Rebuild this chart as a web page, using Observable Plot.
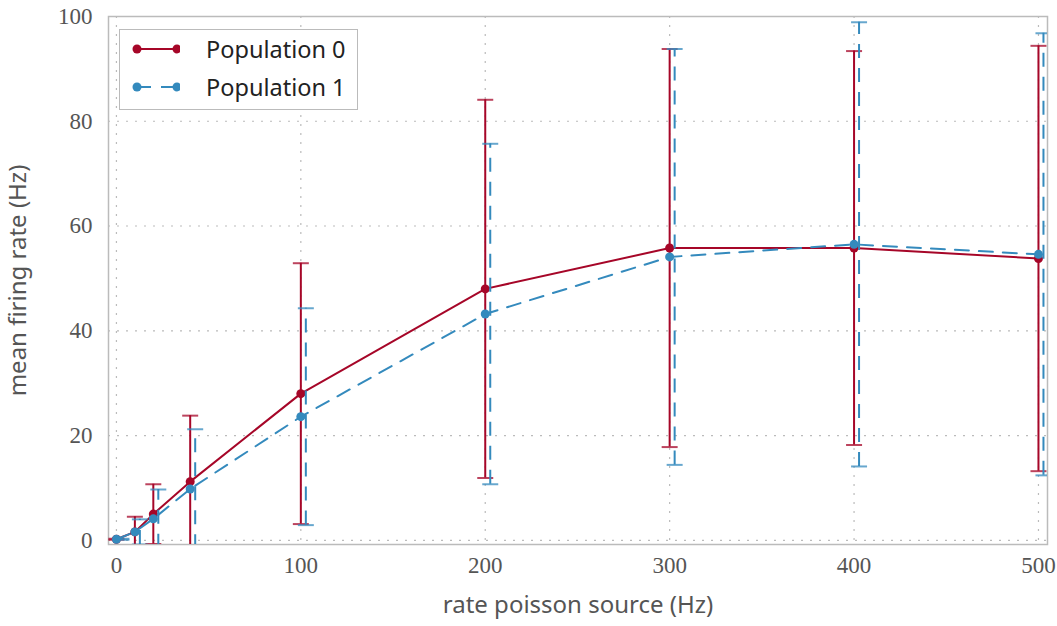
<!DOCTYPE html>
<html>
<head>
<meta charset="utf-8">
<script src="https://cdn.jsdelivr.net/npm/d3@7"></script>
<script src="https://cdn.jsdelivr.net/npm/@observablehq/plot@0.6"></script>
<style>
  body { margin: 0; background: #fff; }
  #wrap { position: relative; width: 1057px; height: 626px; }
  #legend { position: absolute; left: 119px; top: 29px; width: 239px; height: 81px;
    border: 1.5px solid #bbb; background: #fff; box-sizing: border-box;
    font-family: "Noto Sans", sans-serif; font-size: 23.5px; color: #222; }
  .row { position: absolute; left: 0; height: 30px; display: flex; align-items: center; }
  .row svg { margin-left: 10px; }
  .row span { margin-left: 26px; }
</style>
</head>
<body>
<div id="wrap"></div>
<script>
const rates = [0, 10, 20, 40, 100, 200, 300, 400, 500];
const pop0Mean = [0.2, 1.6, 5.0, 11.2, 28.0, 48.0, 55.8, 55.8, 53.8];
const pop0Std  = [0.1, 2.9, 5.7, 12.6, 24.9, 36.1, 38.0, 37.6, 40.6];
const pop1Mean = [0.2, 1.6, 4.1, 9.8, 23.6, 43.2, 54.1, 56.5, 54.6];
const pop1Std  = [0.1, 2.4, 5.6, 11.4, 20.7, 32.5, 39.7, 42.4, 42.2];
const seriesNames = ["Population 0", "Population 1"];
const xTicks = [0, 100, 200, 300, 400, 500];
const yTicks = [0, 20, 40, 60, 80, 100];

const red = "#A60628", blue = "#348ABD";
const d0 = rates.map((x, i) => ({x, mean: pop0Mean[i], std: pop0Std[i]}));
const d1 = rates.map((x, i) => ({x, mean: pop1Mean[i], std: pop1Std[i]}));

const capSymbol = {draw(ctx, size) { const r = Math.sqrt(size / Math.PI); ctx.moveTo(-r, 0); ctx.lineTo(r, 0); }};

const serif = "'Liberation Serif', serif";
const sans = "'Noto Sans', sans-serif";

function layer(data, color, dash, dx) {
  return [
    Plot.ruleX(data, {x: "x", y1: d => d.mean - d.std, y2: d => d.mean + d.std, stroke: color, strokeWidth: 2, strokeDasharray: dash, dx, clip: true}),
    Plot.dot(data, {x: "x", y: d => d.mean + d.std, symbol: capSymbol, r: 8, stroke: color, strokeOpacity: 0.75, strokeWidth: 2, fill: "none", dx, clip: true}),
    Plot.dot(data, {x: "x", y: d => d.mean - d.std, symbol: capSymbol, r: 8, stroke: color, strokeOpacity: 0.75, strokeWidth: 2, fill: "none", dx, clip: true}),
    Plot.line(data, {x: "x", y: "mean", stroke: color, strokeWidth: 2, strokeDasharray: dash, clip: true}),
    Plot.dot(data, {x: "x", y: "mean", r: 4.5, fill: color, clip: true})
  ];
}

const chart = Plot.plot({
  width: 1057,
  height: 626,
  marginLeft: 108,
  marginRight: 10,
  marginTop: 16,
  marginBottom: 82,
  x: {domain: [-4.3, 504.9]},
  y: {domain: [-0.8, 100]},
  style: {background: "#fff"},
  marks: [
    Plot.gridX(xTicks, {stroke: "#bbb", strokeOpacity: 1, strokeDasharray: "2,7", strokeWidth: 1.2}),
    Plot.gridY(yTicks, {stroke: "#bbb", strokeOpacity: 1, strokeDasharray: "2,7", strokeWidth: 1.2}),
    Plot.frame({stroke: "#bbb", strokeWidth: 1.5}),
    Plot.axisX({ticks: xTicks, tickSize: 0, tickPadding: 12, fontFamily: serif, fontSize: 23, color: "#555", label: null}),
    Plot.axisY({ticks: yTicks, tickSize: 0, tickPadding: 16, fontFamily: serif, fontSize: 23, color: "#555", label: null}),
    Plot.axisX({ticks: [], tickSize: 0, label: "rate poisson source (Hz)", labelAnchor: "center", labelArrow: "none", labelOffset: 68, fontFamily: sans, fontSize: 24, color: "#555"}),
    Plot.axisY({ticks: [], tickSize: 0, label: "mean firing rate (Hz)", labelAnchor: "center", labelArrow: "none", labelOffset: 100, fontFamily: sans, fontSize: 24, color: "#555"}),
    ...layer(d0, red, null, 0),
    ...layer(d1, blue, "14,10", 5)
  ]
});

const wrap = document.getElementById("wrap");
wrap.appendChild(chart);

const legend = document.createElement("div");
legend.id = "legend";
const colors = [red, blue];
const dashes = [null, "14,10"];
seriesNames.forEach((name, i) => {
  const row = document.createElement("div");
  row.className = "row";
  row.style.top = (4 + i * 38) + "px";
  row.innerHTML = `<svg width="50" height="14"><line x1="7" x2="47" y1="7" y2="7" stroke="${colors[i]}" stroke-width="2" ${dashes[i] ? `stroke-dasharray="${dashes[i]}"` : ""}/><circle cx="7" cy="7" r="4.5" fill="${colors[i]}"/><circle cx="47" cy="7" r="4.5" fill="${colors[i]}"/></svg><span>${name}</span>`;
  legend.appendChild(row);
});
wrap.appendChild(legend);
</script>
</body>
</html>
